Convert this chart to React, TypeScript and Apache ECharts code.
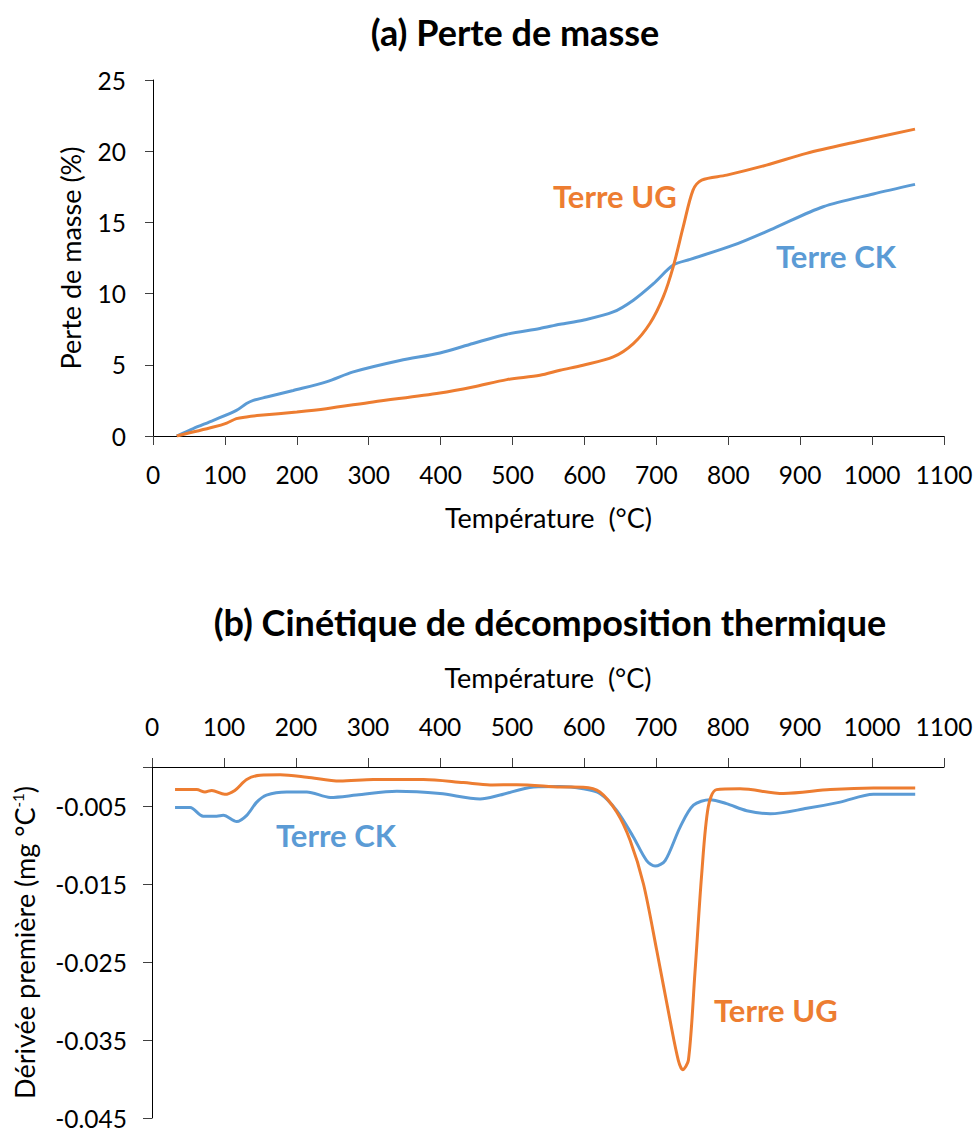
import React, { useEffect, useRef } from "react";
import * as echarts from "echarts";

// (a) Perte de masse (%) vs température (°C)
const massCK: [number, number][] = [
  [33, 0], [56, 0.52], [84, 1.1], [116, 1.8], [130, 2.28], [139.5, 2.5], [158, 2.74],
  [195, 3.2], [241, 3.8], [278.5, 4.5], [343.5, 5.3], [399, 5.83], [445, 6.5],
  [492, 7.15], [538, 7.55], [566, 7.85], [598, 8.13], [640, 8.71], [668, 9.54],
  [696, 10.7], [723.5, 12.0], [747, 12.4], [807, 13.4], [862.6, 14.57], [932, 16.1],
  [1001.7, 17.0], [1059.7, 17.67],
];
const massUG: [number, number][] = [
  [33, 0], [84, 0.63], [102.5, 0.91], [116, 1.22], [130, 1.34], [149, 1.45], [200, 1.69],
  [241, 1.92], [306, 2.39], [399, 3.02], [445, 3.44], [492, 3.96], [538, 4.27],
  [566, 4.62], [598, 4.97], [640, 5.55], [668, 6.49], [691, 7.9], [709.6, 9.77],
  [723.5, 11.9], [737.4, 14.7], [751, 17.27], [763, 17.97], [797.8, 18.32],
  [853, 19.02], [908.6, 19.85], [978.6, 20.66], [1059.7, 21.55],
];

// (b) Dérivée première (mg °C-1) vs température (°C)
const derivCK: [number, number][] = [
  [32, -0.0052], [53, -0.0052], [71, -0.0063], [89.9, -0.0063], [99, -0.0062],
  [117.7, -0.007], [131.6, -0.0062], [145.5, -0.0045], [159, -0.0036], [187, -0.0032],
  [215, -0.0032], [247.7, -0.0039], [284, -0.0036], [340, -0.0031], [400, -0.0034],
  [455.7, -0.0041], [483.5, -0.0036], [530, -0.00256], [567, -0.0025], [599, -0.0028],
  [622, -0.0034], [645.6, -0.0056], [668.7, -0.009], [687, -0.012], [698.8, -0.0127],
  [712.7, -0.012], [733.5, -0.0077], [752, -0.0049], [775, -0.0042], [798, -0.0047],
  [826, -0.0056], [858.6, -0.006], [909.5, -0.0053], [955.8, -0.0045], [1002, -0.0035],
  [1060, -0.0035],
];
const derivUG: [number, number][] = [
  [32, -0.0029], [62, -0.0029], [73.6, -0.0032], [83, -0.003], [101, -0.0035],
  [115, -0.003], [131.5, -0.0016], [150, -0.00106], [178, -0.001], [215, -0.0013],
  [261, -0.0018], [307.5, -0.0016], [377, -0.0016], [432.5, -0.002], [469.6, -0.0023],
  [506.7, -0.00226], [567, -0.00256], [599, -0.0026], [622, -0.0032], [645.6, -0.0058],
  [664, -0.0094], [682.6, -0.015], [701, -0.0235], [719.6, -0.0325], [731, -0.0376],
  [737, -0.0388], [745, -0.0376], [754, -0.0265], [763.5, -0.0137], [772.6, -0.0051],
  [784, -0.0029], [816.7, -0.0028], [877, -0.0034], [942, -0.0029], [1002, -0.0027],
  [1060, -0.0027],
];

const ORANGE = "#ED7D31";
const BLUE = "#5B9BD5";
const FONT = "Lato, 'Open Sans', sans-serif";
const AXIS_COLOR = "#000";
const TICK_COLOR = "#404040";

export default function App() {
  const ref = useRef<HTMLDivElement>(null);
  useEffect(() => {
    document.body.style.margin = "0";
    const chart = echarts.init(ref.current!, null, { renderer: "svg" });
    const axisLabel = { color: "#000", fontSize: 24.5, fontFamily: FONT };
    const nameStyle = { color: "#000", fontSize: 27, fontFamily: FONT };
    const xFmt = (v: number) => String(Math.round(v));
    chart.setOption({
      animation: false,
      backgroundColor: "#fff",
      textStyle: { fontFamily: FONT },
      title: [
        {
          text: "(a) Perte de masse",
          left: 510,
          textAlign: "center",
          top: 9,
          textStyle: { fontSize: 36, fontWeight: "bold", color: "#000", fontFamily: FONT },
        },
        {
          text: "(b) Cinétique de décomposition thermique",
          left: 545,
          textAlign: "center",
          top: 599,
          textStyle: { fontSize: 36, fontWeight: "bold", color: "#000", fontFamily: FONT },
        },
      ],
      grid: [
        { left: 153, top: 80, width: 791, height: 356 },
        { left: 152, top: 767, width: 792, height: 351 },
      ],
      xAxis: [
        {
          type: "value",
          gridIndex: 0,
          min: 0,
          max: 1100,
          interval: 100,
          name: "Température  (°C)",
          nameLocation: "middle",
          nameGap: 68,
          nameTextStyle: nameStyle,
          axisLine: { onZero: false, lineStyle: { color: AXIS_COLOR, width: 1 } },
          axisTick: { show: true, length: 9, lineStyle: { color: TICK_COLOR } },
          axisLabel: { ...axisLabel, margin: 26, formatter: xFmt },
          splitLine: { show: false },
        },
        {
          type: "value",
          gridIndex: 1,
          position: "top",
          min: 0,
          max: 1100,
          interval: 100,
          name: "Température  (°C)",
          nameLocation: "middle",
          nameGap: 76,
          nameTextStyle: nameStyle,
          axisLine: { onZero: false, lineStyle: { color: AXIS_COLOR, width: 1 } },
          axisTick: { show: true, length: 9, lineStyle: { color: TICK_COLOR } },
          axisLabel: { ...axisLabel, margin: 28, formatter: xFmt },
          splitLine: { show: false },
        },
      ],
      yAxis: [
        {
          type: "value",
          gridIndex: 0,
          min: 0,
          max: 25,
          interval: 5,
          name: "Perte de masse (%)",
          nameLocation: "middle",
          nameGap: 69,
          nameTextStyle: nameStyle,
          axisLine: { show: true, onZero: false, lineStyle: { color: AXIS_COLOR, width: 1 } },
          axisTick: { show: true, length: 8, lineStyle: { color: TICK_COLOR } },
          axisLabel: { ...axisLabel, margin: 27 },
          splitLine: { show: false },
        },
        {
          type: "value",
          gridIndex: 1,
          min: -0.045,
          max: 0,
          interval: 0.01,
          name: "Dérivée première (mg °C{sup|-1})",
          nameLocation: "middle",
          nameGap: 114,
          nameTextStyle: {
            ...nameStyle,
            rich: {
              sup: { fontSize: 15, fontFamily: FONT, color: "#000", verticalAlign: "top", padding: [0, 0, 13, 0] },
            },
          },
          axisLine: { show: true, onZero: false, lineStyle: { color: AXIS_COLOR, width: 1 } },
          axisTick: { show: true, length: 9, lineStyle: { color: TICK_COLOR } },
          axisLabel: {
            ...axisLabel,
            margin: 25,
            formatter: (v: number) => (Math.abs(v) < 1e-9 ? "" : v.toFixed(3)),
          },
          splitLine: { show: false },
        },
      ],
      series: [
        {
          name: "Terre CK",
          type: "line",
          xAxisIndex: 0,
          yAxisIndex: 0,
          data: massCK,
          showSymbol: false,
          smooth: 0.3,
          lineStyle: { color: BLUE, width: 3 },
          itemStyle: { color: BLUE },
        },
        {
          name: "Terre UG",
          type: "line",
          xAxisIndex: 0,
          yAxisIndex: 0,
          data: massUG,
          showSymbol: false,
          smooth: 0.3,
          lineStyle: { color: ORANGE, width: 3 },
          itemStyle: { color: ORANGE },
        },
        {
          name: "Terre CK",
          type: "line",
          xAxisIndex: 1,
          yAxisIndex: 1,
          data: derivCK,
          showSymbol: false,
          smooth: 0.3,
          lineStyle: { color: BLUE, width: 3 },
          itemStyle: { color: BLUE },
        },
        {
          name: "Terre UG",
          type: "line",
          xAxisIndex: 1,
          yAxisIndex: 1,
          data: derivUG,
          showSymbol: false,
          smooth: 0.3,
          lineStyle: { color: ORANGE, width: 3 },
          itemStyle: { color: ORANGE },
        },
      ],
      graphic: [
        { type: "text", left: 553, top: 180, style: { text: "Terre UG", fill: ORANGE, font: `bold 31px ${FONT}` } },
        { type: "text", left: 776, top: 240, style: { text: "Terre CK", fill: BLUE, font: `bold 31px ${FONT}` } },
        { type: "text", left: 276, top: 819, style: { text: "Terre CK", fill: BLUE, font: `bold 31px ${FONT}` } },
        { type: "text", left: 714, top: 994, style: { text: "Terre UG", fill: ORANGE, font: `bold 31px ${FONT}` } },
      ],
    });
    return () => chart.dispose();
  }, []);
  return (
    <div
      ref={ref}
      style={{ position: "absolute", left: 0, top: 0, width: 979, height: 1131, background: "#fff" }}
    />
  );
}
